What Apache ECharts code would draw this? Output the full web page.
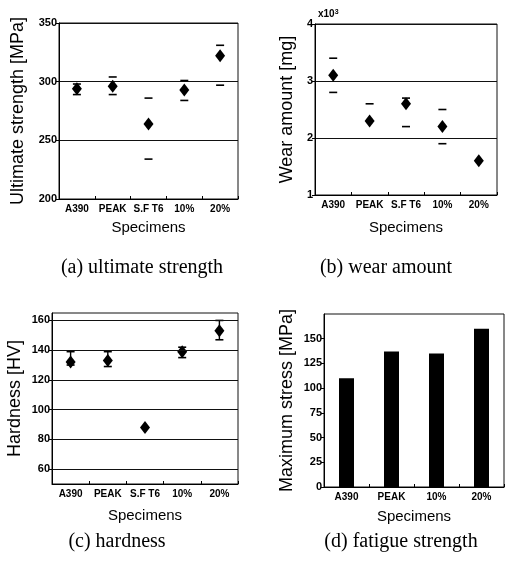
<!DOCTYPE html>
<html><head><meta charset="utf-8">
<script src="https://cdn.jsdelivr.net/npm/echarts@6/dist/echarts.min.js"></script>
<style>html,body{margin:0;padding:0;background:#fff}#c{width:505px;height:565px}</style>
</head><body><div id="c"></div>
<script>
// ---- data ----
const specimens = ['A390', 'PEAK', 'S.F T6', '10%', '20%'];
const strengthMean  = [294, 296, 264, 293, 322];
const strengthUpper = [298, 304, 286, 301, 331];
const strengthLower = [289, 289, 234, 284, 297];

const wearMean  = [3.1, 2.3, 2.6, 2.2, 1.6];
const wearUpper = [3.4, 2.6, 2.7, 2.5, null];
const wearLower = [2.8, null, 2.2, 1.9, null];

const hardMean  = [132, 133, 88, 139, 153];
const hardUpper = [139, 139, null, 142, 160];
const hardLower = [130, 129, null, 135, 147];
const hardTicks = [60, 80, 100, 120, 140, 160];

const fatigueSpecimens = ['A390', 'PEAK', '10%', '20%'];
const fatigueStress = [110, 137, 135, 160];

const captions = ['(a) ultimate strength', '(b) wear amount', '(c) hardness', '(d) fatigue strength'];

// ---- helpers ----
const SANS = 'Liberation Sans';
const SERIF = 'Liberation Serif';
const INK = '#000';

function errData(up, lo) {
  return up.map((u, i) => [i, u == null ? NaN : u, lo[i] == null ? NaN : lo[i]]);
}
function errSeries(idx, up, lo, stem) {
  return {
    type: 'custom', xAxisIndex: idx, yAxisIndex: idx, z: 3,
    data: errData(up, lo),
    encode: { x: 0, y: [1, 2] },
    renderItem: function (params, api) {
      const i = api.value(0);
      const children = [];
      const hw = 4;
      const u = api.value(1), l = api.value(2);
      let pu = null, pl = null;
      if (isFinite(u)) {
        pu = api.coord([i, u]);
        children.push({ type: 'line', shape: { x1: pu[0] - hw, y1: pu[1], x2: pu[0] + hw, y2: pu[1] }, style: { stroke: INK, lineWidth: 1.6 } });
      }
      if (isFinite(l)) {
        pl = api.coord([i, l]);
        children.push({ type: 'line', shape: { x1: pl[0] - hw, y1: pl[1], x2: pl[0] + hw, y2: pl[1] }, style: { stroke: INK, lineWidth: 1.6 } });
      }
      if (stem && pu && pl) {
        children.push({ type: 'line', shape: { x1: pu[0], y1: pu[1], x2: pl[0], y2: pl[1] }, style: { stroke: INK, lineWidth: 1.4 } });
      }
      return { type: 'group', children: children };
    }
  };
}
function meanSeries(idx, vals) {
  return {
    type: 'scatter', xAxisIndex: idx, yAxisIndex: idx, z: 4,
    symbol: 'diamond', symbolSize: [10, 13],
    itemStyle: { color: INK, opacity: 1 },
    data: vals
  };
}
function xAxisDef(idx, cats, gap) {
  return {
    type: 'category', gridIndex: idx, data: cats,
    name: 'Specimens', nameLocation: 'middle', nameGap: gap,
    nameTextStyle: { fontFamily: SANS, fontSize: 15, color: INK },
    axisLine: { lineStyle: { color: INK, width: 1 } },
    axisTick: { show: true, inside: true, length: 3, lineStyle: { color: INK } },
    axisLabel: { interval: 0, margin: 5, fontFamily: SANS, fontSize: 10, fontWeight: 'bold', color: INK },
    splitLine: { show: false }
  };
}
function yAxisDef(idx, name, gap, extra) {
  return Object.assign({
    type: 'value', gridIndex: idx,
    name: name, nameLocation: 'middle', nameGap: gap,
    nameTextStyle: { fontFamily: SANS, fontSize: 18, color: INK },
    axisLine: { show: true, lineStyle: { color: INK, width: 1 } },
    axisTick: { show: true, length: 3, lineStyle: { color: INK } },
    axisLabel: { margin: 2, fontFamily: SANS, fontSize: 11, fontWeight: 'bold', color: INK },
    splitLine: { show: true, lineStyle: { color: '#111', width: 1 } }
  }, extra);
}
const gridBase = { show: true, borderColor: '#111', borderWidth: 1, backgroundColor: 'transparent' };

const option = {
  animation: false,
  backgroundColor: '#fff',
  grid: [
    Object.assign({ left: 59, top: 23, width: 179, height: 176 }, gridBase),
    Object.assign({ left: 315, top: 24, width: 182, height: 171 }, gridBase),
    Object.assign({ left: 52, top: 313, width: 186, height: 171 }, gridBase),
    Object.assign({ left: 324, top: 314, width: 180, height: 173 }, gridBase)
  ],
  xAxis: [
    xAxisDef(0, specimens, 21),
    xAxisDef(1, specimens, 25),
    xAxisDef(2, specimens, 24),
    xAxisDef(3, fatigueSpecimens, 22)
  ],
  yAxis: [
    yAxisDef(0, 'Ultimate strength [MPa]', 32, { min: 200, max: 350, interval: 50 }),
    yAxisDef(1, 'Wear amount [mg]', 19, { min: 1, max: 4, interval: 1 }),
    yAxisDef(2, 'Hardness [HV]', 28, {
      min: 50, max: 165,
      axisTick: { show: true, length: 3, lineStyle: { color: INK }, customValues: hardTicks },
      axisLabel: { margin: 2, fontFamily: SANS, fontSize: 11, fontWeight: 'bold', color: INK, customValues: hardTicks },
      splitLine: { show: false }
    }),
    yAxisDef(3, 'Maximum stress [MPa]', 28, {
      min: 0, max: 175, interval: 25,
      axisLabel: { margin: 2, fontFamily: SANS, fontSize: 11, fontWeight: 'bold', color: INK, showMaxLabel: false },
      splitLine: { show: false }
    })
  ],
  series: [
    errSeries(0, strengthUpper, strengthLower, false),
    meanSeries(0, strengthMean),
    errSeries(1, wearUpper, wearLower, false),
    meanSeries(1, wearMean),
    errSeries(2, hardUpper, hardLower, true),
    Object.assign(meanSeries(2, hardMean), {
      markLine: {
        silent: true, symbol: 'none', label: { show: false },
        lineStyle: { color: '#111', type: 'solid', width: 1, opacity: 1 },
        data: hardTicks.map(v => ({ yAxis: v }))
      }
    }),
    {
      type: 'bar', xAxisIndex: 3, yAxisIndex: 3,
      barWidth: 15, itemStyle: { color: '#000' },
      data: fatigueStress
    }
  ],
  graphic: [
    { type: 'text', x: 142, y: 268, style: { text: captions[0], font: '20px "' + SERIF + '"', fill: '#000', textAlign: 'center', textVerticalAlign: 'middle' } },
    { type: 'text', x: 386, y: 268, style: { text: captions[1], font: '20px "' + SERIF + '"', fill: '#000', textAlign: 'center', textVerticalAlign: 'middle' } },
    { type: 'text', x: 117, y: 542, style: { text: captions[2], font: '20px "' + SERIF + '"', fill: '#000', textAlign: 'center', textVerticalAlign: 'middle' } },
    { type: 'text', x: 401, y: 542, style: { text: captions[3], font: '20px "' + SERIF + '"', fill: '#000', textAlign: 'center', textVerticalAlign: 'middle' } }
  ],
  title: [{
    left: 313, top: 4,
    text: 'x10{s|3}',
    textStyle: { fontFamily: SANS, fontSize: 10, fontWeight: 'bold', color: INK, rich: { s: { fontFamily: SANS, fontSize: 7, color: INK, verticalAlign: 'top', padding: [0, 0, 4, 0] } } }
  }]
};
const chart = echarts.init(document.getElementById('c'), null, { renderer: 'canvas' });
chart.setOption(option);
</script>
</body></html>
